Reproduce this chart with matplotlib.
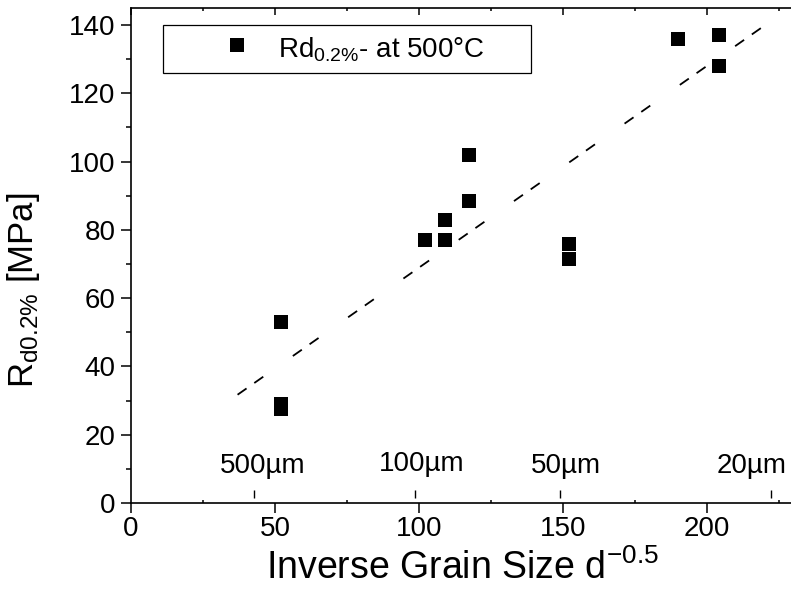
import matplotlib
matplotlib.use("Agg")
import matplotlib.pyplot as plt
from matplotlib.patches import Rectangle
from matplotlib.ticker import MultipleLocator

plt.rcParams["font.family"] = "Liberation Sans"
plt.rcParams["mathtext.fontset"] = "custom"
plt.rcParams["mathtext.rm"] = "Liberation Sans"
plt.rcParams["mathtext.it"] = "Liberation Sans:italic"
plt.rcParams["mathtext.default"] = "regular"
plt.rcParams["lines.scale_dashes"] = False

# yield strength Rd0.2% at 500 °C vs inverse square root of grain size
inv_grain = [52, 52, 52, 102, 109, 109, 117.5, 117.5, 152, 152, 190, 204, 204]
rd02 = [53, 29, 27.5, 77, 77, 83, 88.5, 102, 76, 71.5, 136, 137, 128]

# Hall-Petch style fit (dashed)
fit_slope = 0.591
fit_icept = 9.85
fit_range = [37, 219]

# grain size markers along the x axis
size_labels = ["500µm", "100µm", "50µm", "20µm"]
size_ticks = [42.7, 98.6, 149, 222.2]
size_label_x = [45.8, 101, 151, 215.6]
size_label_y = [8.8, 9.5, 8.8, 8.8]

fig = plt.figure(figsize=(7.91, 6.03), dpi=100)
ax = fig.add_axes([131 / 791, 100 / 603, 662.4 / 791, 495 / 603])

ax.plot(inv_grain, rd02, ls="none", marker="s", ms=10.3, mew=0, color="black")
fit_y = [fit_icept + fit_slope * x for x in fit_range]
ax.plot(fit_range, fit_y, color="black", lw=1.3, dashes=[7.9, 6.8, 7.9, 26])

ax.vlines(size_ticks, 1.5, 3.8, color="black", lw=1.0)
for lab, x, y in zip(size_labels, size_label_x, size_label_y):
    ax.text(x, y, lab, ha="center", va="baseline", fontsize=20)

ax.set_xlim(0, 230)
ax.set_ylim(0, 145)
ax.xaxis.set_major_locator(MultipleLocator(50))
ax.xaxis.set_minor_locator(MultipleLocator(25))
ax.yaxis.set_major_locator(MultipleLocator(20))
ax.yaxis.set_minor_locator(MultipleLocator(10))
ax.tick_params(axis="both", which="major", direction="out", length=7, width=1.1,
               labelsize=20, color="black")
ax.tick_params(axis="x", which="major", pad=2.5)
ax.tick_params(axis="y", which="major", pad=4)
ax.tick_params(axis="y", which="minor", direction="out", length=3.6, width=1.1)
ax.tick_params(axis="x", which="minor", direction="in", length=2.5, width=1.1)
ax.tick_params(axis="x", which="both", top=True)
for sp in ax.spines.values():
    sp.set_linewidth(1.2)
    sp.set_color("black")
# top ticks point inward
for t in ax.xaxis.get_major_ticks():
    t.tick2line.set_marker(3)
    t.tick2line.set_markersize(5)

fig.text(23.5 / 791, 1 - 290 / 603, "R$_{d0.2\\%}$ [MPa]", rotation=90,
         ha="center", va="center", fontsize=25)
ax.set_xlabel("Inverse Grain Size d$^{-0.5}$", fontsize=27, labelpad=5)

# legend box
ax.add_patch(Rectangle((0.0483, 0.8687), 0.604 - 0.0483, 0.9657 - 0.8687,
                       transform=ax.transAxes, fill=False, ec="black", lw=0.9))
ax.plot([0.16], [0.925], marker="s", ms=10.3, mew=0, color="black",
        transform=ax.transAxes, clip_on=False)
ax.text(0.222, 0.901, "Rd$_{0.2\\%}$- at 500°C", transform=ax.transAxes,
        ha="left", va="baseline", fontsize=20)

fig.savefig("out.png", dpi=100)
